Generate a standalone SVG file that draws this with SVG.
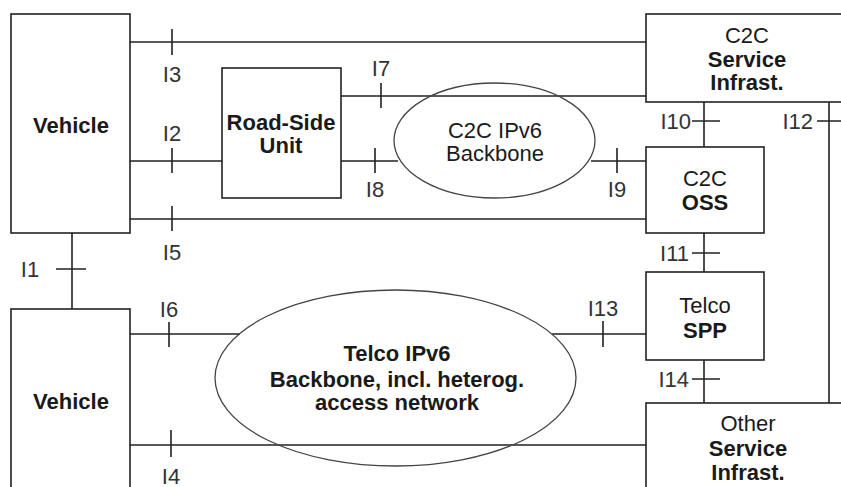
<svg xmlns="http://www.w3.org/2000/svg" width="841" height="487" viewBox="0 0 841 487">
<style>
.box{fill:#fff;stroke:#222;stroke-width:1.6}
.ell{fill:none;stroke:#444;stroke-width:1.3}
.ln{stroke:#222;stroke-width:1.6;fill:none}
text{font-family:"Liberation Sans",Arial,sans-serif;font-size:22px;fill:#1a1a1a;text-anchor:middle;dominant-baseline:central}
.b{font-weight:bold}
.lab{fill:#333}
.r{text-anchor:end}
</style>
<rect width="841" height="487" fill="#fff"/>
<g id="connectors">
<path class="ln" d="M130 42H646M172 29V55"/>
<path class="ln" d="M130 161H222M172 148V173"/>
<path class="ln" d="M130 219H646M172 206V231"/>
<path class="ln" d="M341 96H646M381 83V108"/>
<path class="ln" d="M341 161H398M375 148V173"/>
<path class="ln" d="M591 161H646M617 148V173"/>
<path class="ln" d="M704 102V147M692 121H720"/>
<path class="ln" d="M829 102V403M817 121H841"/>
<path class="ln" d="M704 233V272M692 253H720"/>
<path class="ln" d="M704 360V403M692 379H720"/>
<path class="ln" d="M552 334H646M603 321V347"/>
<path class="ln" d="M72 233V309M56 269H86"/>
<path class="ln" d="M130 334H240M169 322V347"/>
<path class="ln" d="M130 445H646M171 430V457"/>
<text class="lab" x="172" y="74">I3</text>
<text class="lab" x="172" y="133">I2</text>
<text class="lab" x="172" y="252">I5</text>
<text class="lab" x="381" y="68">I7</text>
<text class="lab" x="375" y="189">I8</text>
<text class="lab" x="617" y="189">I9</text>
<text class="lab r" x="691" y="121">I10</text>
<text class="lab r" x="813" y="121">I12</text>
<text class="lab r" x="689" y="253">I11</text>
<text class="lab r" x="689" y="379">I14</text>
<text class="lab" x="603" y="308">I13</text>
<text class="lab" x="30" y="269">I1</text>
<text class="lab" x="169" y="309">I6</text>
<text class="lab" x="171" y="476">I4</text>
</g>
<g id="vehicle1">
<rect class="box" x="11" y="14" width="119" height="219"/>
<text class="b" x="71" y="125">Vehicle</text>
</g>
<g id="vehicle2">
<rect class="box" x="11" y="309" width="119" height="190"/>
<text class="b" x="71" y="401">Vehicle</text>
</g>
<g id="rsu">
<rect class="box" x="222" y="68" width="119" height="130"/>
<text class="b" x="281" y="122">Road-Side</text>
<text class="b" x="281" y="145">Unit</text>
</g>
<g id="c2c-backbone">
<ellipse class="ell" cx="494.5" cy="140.5" rx="100.5" ry="57.5"/>
<text x="495" y="130">C2C IPv6</text>
<text x="495" y="153">Backbone</text>
</g>
<g id="c2c-service">
<rect class="box" x="646" y="14" width="210" height="88"/>
<text x="747" y="35">C2C</text>
<text class="b" x="747" y="59">Service</text>
<text class="b" x="747" y="82">Infrast.</text>
</g>
<g id="c2c-oss">
<rect class="box" x="646" y="147" width="118" height="86"/>
<text x="705" y="178">C2C</text>
<text class="b" x="705" y="202">OSS</text>
</g>
<g id="telco-spp">
<rect class="box" x="646" y="272" width="118" height="88"/>
<text x="705" y="305">Telco</text>
<text class="b" x="705" y="330">SPP</text>
</g>
<g id="other-service">
<rect class="box" x="646" y="403" width="210" height="100"/>
<text x="748" y="423">Other</text>
<text class="b" x="748" y="448">Service</text>
<text class="b" x="748" y="472">Infrast.</text>
</g>
<g id="telco-backbone">
<ellipse class="ell" cx="395.5" cy="378" rx="180.5" ry="88"/>
<text class="b" x="397" y="353">Telco IPv6</text>
<text class="b" x="397" y="379">Backbone, incl. heterog.</text>
<text class="b" x="397" y="402">access network</text>
</g>
</svg>
